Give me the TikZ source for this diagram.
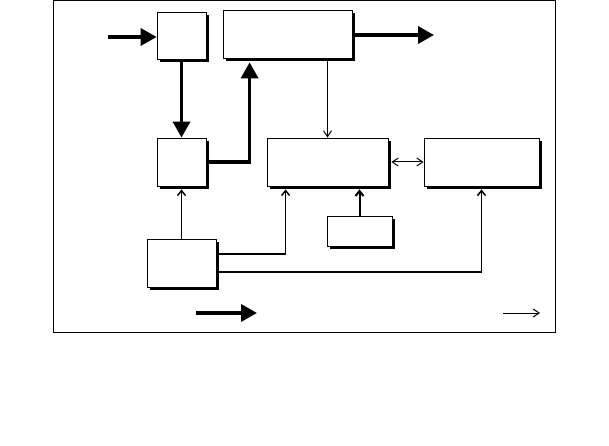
\documentclass[tikz,border=0pt]{standalone}
\usepackage{tikz}
\usetikzlibrary{arrows.meta,shadows,calc}
\tikzset{
  blk/.style ={draw,line width=0.8pt,fill=white,inner sep=0pt,
               drop shadow={shadow xshift=3pt,shadow yshift=-3pt,fill=black,opacity=1}},
  fat/.style ={line width=3.5pt,-{Triangle[length=16pt,width=17pt]}},
  thn/.style ={line width=1pt,-{Straight Barb[length=6pt,width=8pt]}},
  mid/.style ={line width=1.5pt,-{Straight Barb[length=5pt,width=8pt]}},
}
\begin{document}
\begin{tikzpicture}[x=1pt,y=-1pt]
  \useasboundingbox (0,0) rectangle (609,446);
  \draw[line width=1pt] (53,1) rectangle (555,332);
  % blocks
  \node[blk,minimum width=49pt,minimum height=47pt]  (a) at (181.5,35.5) {};
  \node[blk,minimum width=129pt,minimum height=48pt] (b) at (287.5,34) {};
  \node[blk,minimum width=49pt,minimum height=48pt]  (c) at (181.5,162) {};
  \node[blk,minimum width=121pt,minimum height=48pt] (d) at (327.5,162) {};
  \node[blk,minimum width=115pt,minimum height=48pt] (e) at (481.5,162) {};
  \node[blk,minimum width=65pt,minimum height=30pt]  (f) at (359.5,231) {};
  \node[blk,minimum width=69pt,minimum height=48pt]  (g) at (181.5,263) {};
  \coordinate (in)  at (108,37);
  \coordinate (out) at (434,35);
  \coordinate (k1) at (196,313);
  \coordinate (k2) at (257,313);
  \coordinate (k3) at (503,313);
  \coordinate (k4) at (540,313);
  % thick paths
  \draw[fat] (in) -- (in -| a.west);
  \draw[fat] (a.south) -- (c.north);
  \draw[fat] (c.east) -| ([xshift=27pt,yshift=-4pt]b.south west);
  \draw[fat] (b.east |- out) -- (out);
  % thin paths
  \draw[thn] (b.south -| d.north) -- (d.north);
  \draw[thn,{Straight Barb[length=6pt,width=8pt]}-{Straight Barb[length=6pt,width=8pt]},shorten <=3pt] (d.east) -- (e.west);
  \draw[mid] (g.north) -- ([yshift=-3pt]c.south);
  \draw[mid] ([yshift=9pt]g.east) -| ([xshift=19pt,yshift=-3pt]d.south west);
  \draw[mid] ([yshift=-9pt]g.east) -| ([yshift=-3pt]e.south);
  \draw[line width=2pt,-{Straight Barb[length=5pt,width=8pt]}] (f.north) -- ([yshift=-3pt]f.north |- d.south);
  % key
  \draw[fat] (k1) -- (k2);
  \draw[thn] (k3) -- (k4);
\end{tikzpicture}
\end{document}
